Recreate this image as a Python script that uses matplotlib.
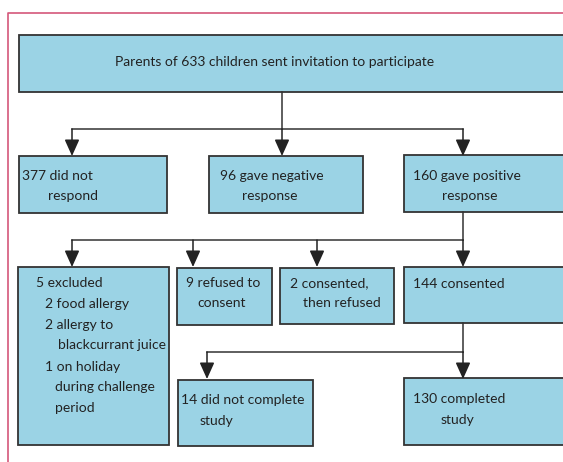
import matplotlib.pyplot as plt
from matplotlib.patches import Rectangle

plt.rcParams['font.family'] = ['Lato', 'DejaVu Sans']

# box texts (lines as drawn, indent handled at layout)
top_text = "Parents of 633 children sent invitation to participate"
row2_texts = [["377 did not", "respond"],
              ["96 gave negative", "response"],
              ["160 gave positive", "response"]]
row3_texts = [["5 excluded", "2 food allergy", "2 allergy to", "blackcurrant juice",
               "1 on holiday", "during challenge", "period"],
              ["9 refused to", "consent"],
              ["2 consented,", "then refused"],
              ["144 consented"]]
row4_texts = [["14 did not complete", "study"],
              ["130 completed", "study"]]

FILL = '#9bd3e5'
EDGE = '#333333'
FS = 10

fig = plt.figure(figsize=(5.63, 4.62), dpi=100)
ax = fig.add_axes([0, 0, 1, 1])
ax.set_xlim(0, 563)
ax.set_ylim(462, 0)
ax.axis('off')

# pink frame (left and top only visible)
ax.plot([8, 8, 570], [470, 13, 13], color='#d4587a', lw=1.2)


def box(x0, y0, x1, y1):
    ax.add_patch(Rectangle((x0, y0), x1 - x0, y1 - y0, facecolor=FILL,
                           edgecolor=EDGE, lw=1.3))


def lines(xs, ys, texts):
    for x, y, t in zip(xs, ys, texts):
        ax.text(x, y, t, fontsize=FS, color='#222222', ha='left', va='center')


def arrow(x, y0, y1):
    ax.annotate('', xy=(x, y1), xytext=(x, y0),
                arrowprops=dict(arrowstyle='-|>,head_length=1.0,head_width=0.45',
                                color='#222222', lw=1.1, shrinkA=0, shrinkB=0))


# top box
box(19, 35, 580, 92)
ax.text(275, 62, top_text, fontsize=FS, color='#222222', ha='center', va='center')

# level 1 connectors
ax.plot([282, 282], [92, 129], color='#333333', lw=1.1)
ax.plot([72, 463], [129, 129], color='#333333', lw=1.1)
for x in [72, 282, 463]:
    arrow(x, 129, 156)

box(19, 156, 167, 213)
box(209, 156, 363, 213)
box(404, 155, 580, 212)
lines([22, 48], [176, 196], row2_texts[0])
lines([220, 242], [176, 196], row2_texts[1])
lines([413, 442], [176, 196], row2_texts[2])

# level 2 connectors
ax.plot([463, 463], [212, 240], color='#333333', lw=1.1)
ax.plot([72, 463], [240, 240], color='#333333', lw=1.1)
for x in [72, 193, 317, 463]:
    arrow(x, 240, 267)

box(18, 267, 169, 445)
box(177, 268, 272, 325)
box(280, 268, 394, 324)
box(404, 267, 580, 323)
lines([36, 45, 45, 58, 45, 55, 55], [283, 304, 325, 345, 367, 387, 408], row3_texts[0])
lines([186, 197], [283, 303], row3_texts[1])
lines([290, 303], [283, 303], row3_texts[2])
lines([413], [284], row3_texts[3])

# level 3 connectors
ax.plot([463, 463], [323, 352], color='#333333', lw=1.1)
ax.plot([207, 463], [352, 352], color='#333333', lw=1.1)
for x in [207, 463]:
    arrow(x, 352, 379)

box(178, 380, 313, 446)
box(404, 378, 580, 445)
lines([181, 200], [400, 421], row4_texts[0])
lines([413, 441], [399, 420], row4_texts[1])

fig.savefig('out.png', dpi=100)
